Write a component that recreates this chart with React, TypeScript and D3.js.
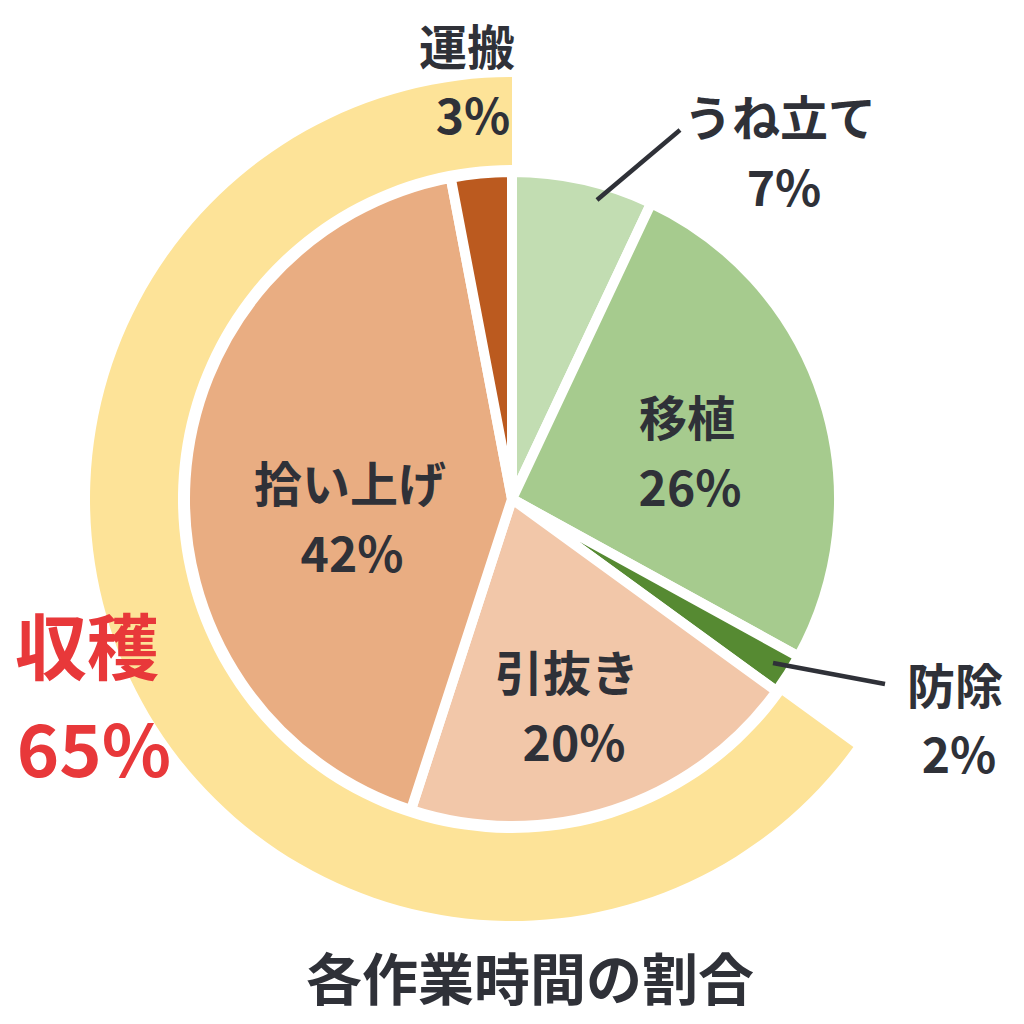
import React from "react";
import * as d3 from "d3";

const categories = ["うね立て", "移植", "防除", "引抜き", "拾い上げ", "運搬"];
const values = [7, 26, 2, 20, 42, 3];
const sliceColors = ["#c2ddb2", "#a6cb8e", "#568a32", "#f2c7a9", "#e9ad82", "#bb5a1f"];
const groupLabel = "収穫";
const groupValue = 65;
const groupMembers = ["引抜き", "拾い上げ", "運搬"];
const title = "各作業時間の割合";

const W = 1024;
const H = 1024;
const cx = 512;
const cy = 499;
const pieR = 327;
const ringInner = 334;
const ringOuter = 422;
const TEXT = "#2f3138";
const FONT = "'Noto Sans CJK JP', 'Noto Sans', sans-serif";

// label layout (category -> name position, value position)
const labelPos: Record<string, { nx: number; ny: number; vx: number; vy: number }> = {
  "うね立て": { nx: 780, ny: 115, vx: 784, vy: 185 },
  "移植": { nx: 687, ny: 415, vx: 690, vy: 485 },
  "防除": { nx: 955, ny: 683, vx: 959, vy: 752 },
  "引抜き": { nx: 567, ny: 670, vx: 574, vy: 740 },
  "拾い上げ": { nx: 350, ny: 481, vx: 352, vy: 551 },
  "運搬": { nx: 467, ny: 44, vx: 473, vy: 113 },
};
const leaders: Record<string, [number, number, number, number]> = {
  "うね立て": [597, 200, 680, 130],
  "防除": [773, 663, 885, 684],
};

export default function App() {
  const pie = d3.pie<number>().sort(null).value((d) => d);
  const arcs = pie(values);
  const arcGen = d3.arc<d3.PieArcDatum<number>>().innerRadius(0).outerRadius(pieR);

  const groupArcs = arcs.filter((_, i) => groupMembers.includes(categories[i]));
  const ringStart = d3.min(groupArcs, (a) => a.startAngle) ?? 0;
  const ringEnd = d3.max(groupArcs, (a) => a.endAngle) ?? 0;
  const ringPath = d3.arc()({
    innerRadius: ringInner,
    outerRadius: ringOuter,
    startAngle: ringStart,
    endAngle: ringEnd,
  }) as string;

  return (
    <svg
      width={W}
      height={H}
      style={{ position: "absolute", left: 0, top: 0, background: "#fff" }}
      fontFamily={FONT}
    >
      <g transform={`translate(${cx},${cy})`}>
        <path d={ringPath} fill="#fde398" />
        {arcs.map((a, i) => (
          <path
            key={categories[i]}
            d={arcGen(a) as string}
            fill={sliceColors[i]}
            stroke="#ffffff"
            strokeWidth={10}
            strokeLinejoin="miter"
          />
        ))}
      </g>
      {Object.entries(leaders).map(([k, l]) => (
        <line key={k} x1={l[0]} y1={l[1]} x2={l[2]} y2={l[3]} stroke={TEXT} strokeWidth={4.5} />
      ))}
      {categories.map((c, i) => {
        const p = labelPos[c];
        return (
          <g key={c} fill={TEXT} fontWeight={700} fontSize={48} textAnchor="middle" dominantBaseline="central">
            <text x={p.nx} y={p.ny}>{c}</text>
            <text x={p.vx} y={p.vy}>{`${values[i]}%`}</text>
          </g>
        );
      })}
      <g fill="#e8383a" fontWeight={700} fontSize={72} textAnchor="middle" dominantBaseline="central">
        <text x={87} y={642}>{groupLabel}</text>
        <text x={94} y={745}>{`${groupValue}%`}</text>
      </g>
      <text
        x={530}
        y={975}
        fill={TEXT}
        fontWeight={700}
        fontSize={56}
        textAnchor="middle"
        dominantBaseline="central"
      >
        {title}
      </text>
    </svg>
  );
}
